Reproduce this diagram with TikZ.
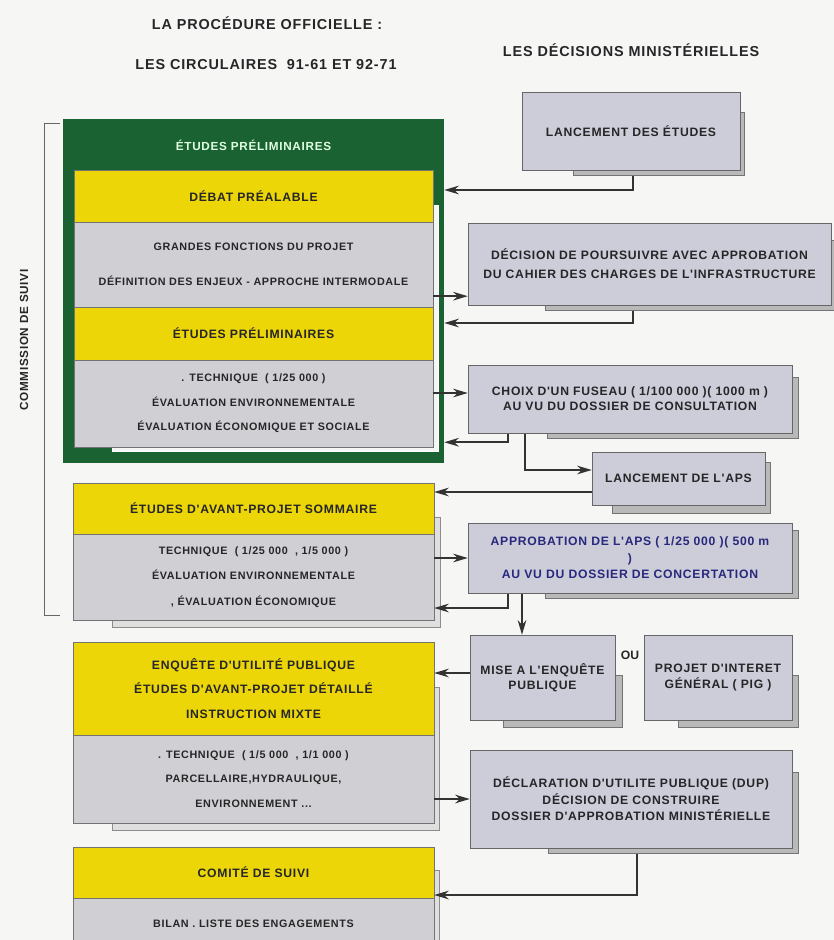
\documentclass[tikz,border=0pt]{standalone}
\usepackage{fontspec}
\setmainfont{Liberation Sans}
\newfontfamily\boxfont{Liberation Sans}[LetterSpace=6]
\usetikzlibrary{arrows.meta,calc}
\definecolor{etgreen}{RGB}{26,98,50}
\definecolor{etyellow}{RGB}{236,214,8}
\definecolor{bandgray}{RGB}{208,208,212}
\definecolor{decgray}{RGB}{205,205,218}
\definecolor{inkgray}{RGB}{38,38,40}
\definecolor{inkblue}{RGB}{40,40,125}
\definecolor{paper}{RGB}{246,246,244}
\newcommand{\unitpx}{0.3mm}
\pgfdeclarelayer{front}
\pgfsetlayers{main,front}

\begin{document}
\begin{tikzpicture}[x=0.03cm,y=-0.03cm,>=Stealth,
  wh/.style 2 args={minimum width=#1*\unitpx, minimum height=#2*\unitpx},
  band/.style={draw=black!55, line width=0.3pt, inner sep=0pt, align=center, text=inkgray},
  yband/.style={band, fill=etyellow, font=\boxfont\bfseries\fontsize{10.4}{#1}\selectfont},
  yband/.default=21,
  gband/.style={band, fill=bandgray, font=\boxfont\bfseries\fontsize{9.2}{#1}\selectfont},
  gband/.default=21,
  decbox/.style={draw=black!60, line width=0.4pt, fill=decgray, inner sep=0pt, align=center,
    text=inkgray, font=\boxfont\bfseries\fontsize{10.4}{#1}\selectfont},
  decbox/.default=13,
  flow/.style={draw=black!80, line width=0.45mm, -{Stealth[length=4.4mm,width=2.6mm]}},
  rshadow/.style={fill=gray!55, draw=black!55, line width=0.3pt},
  lshadow/.style={fill=gray!25, draw=black!45, line width=0.3pt},
  title/.style={font=\boxfont\bfseries\fontsize{12.3}{14}\selectfont, text=inkgray}]

  \useasboundingbox (0,0) rectangle (834,940);
  \clip (0,0) rectangle (834,940);
  \fill[paper] (0,0) rectangle (834,940);

  % decisions ministerielles (front layer, so the links pass under the shadows)
  \begin{pgfonlayer}{front}
  \foreach \a/\b/\c/\d in {573/112/744/175, 545/240/836/310, 547/377/798/438, 612/462/770/513,
      545/530/798/598, 503/675/622/727, 678/675/798/727, 548/772/798/853}
    \filldraw[rshadow] (\a,\b) rectangle (\c,\d);

  \node[decbox, wh={218}{78}] (lancEt) at (631,131) {LANCEMENT DES ÉTUDES};
  \node[decbox=16, wh={363}{82}] (poursuivre) at (649.5,264) {DÉCISION DE POURSUIVRE AVEC APPROBATION\\DU CAHIER DES CHARGES DE L'INFRASTRUCTURE};
  \node[decbox, wh={324}{68}] (fuseau) at (630,399) {CHOIX D'UN FUSEAU ( 1/100 000 )( 1000 m )\\AU VU DU DOSSIER DE CONSULTATION};
  \node[decbox, wh={173}{53}] (lancAps) at (678.5,478.5) {LANCEMENT DE L'APS};
  \node[decbox=14, wh={324}{70}, text=inkblue] (approb) at (630,558) {APPROBATION DE L'APS ( 1/25 000 )( 500 m\\)\\AU VU DU DOSSIER DE CONCERTATION};
  \node[decbox, wh={145}{85}] (enquete) at (542.5,677.5) {MISE A L'ENQUÊTE\\PUBLIQUE};
  \node[decbox, wh={148}{85}] (pig) at (718,677.5) {PROJET D'INTERET\\GÉNÉRAL ( PIG )};
  \node[decbox=14, wh={322}{98}] (dup) at (631,799) {DÉCLARATION D'UTILITE PUBLIQUE (DUP)\\DÉCISION DE CONSTRUIRE\\DOSSIER D'APPROBATION MINISTÉRIELLE};
  \node[font=\bfseries\fontsize{10.4}{12}\selectfont, text=inkgray] (ou) at (630,655) {OU};
  \end{pgfonlayer}

  % headings
  \node[title] (proc) at (267,23) {LA PROCÉDURE OFFICIELLE :};
  \node[title] (circ) at (266,65) {LES CIRCULAIRES \ 91-61 ET 92-71};
  \node[title] (mini) at (631,50) {LES DÉCISIONS MINISTÉRIELLES};

  % commission de suivi
  \draw[black!60, line width=0.5pt] (60,123) -| (44,615) -- (60,615);
  \node[title, font=\boxfont\bfseries\fontsize{10}{12}\selectfont, rotate=90] (comm) at (24,340) {COMMISSION DE SUIVI};

  % etudes preliminaires (green frame)
  \node[fill=etgreen, wh={381}{344}] (green) at (253.5,291) {};
  \node[font=\boxfont\bfseries\fontsize{10}{12}\selectfont, text=green!12!white] (greenTitle) at (253.5,145) {ÉTUDES PRÉLIMINAIRES};
  \filldraw[fill=white!92!gray, draw=white] (112,205) rectangle (438,451);
  \node[yband, wh={359}{52}] (debat) at (253.5,196) {DÉBAT PRÉALABLE};
  \node[gband=30, wh={359}{85}] (fonctions) at (253.5,264.5) {GRANDES FONCTIONS DU PROJET\\DÉFINITION DES ENJEUX - APPROCHE INTERMODALE};
  \node[yband, wh={359}{53}] (prelim) at (253.5,333.5) {ÉTUDES PRÉLIMINAIRES};
  \node[gband, wh={359}{87}] (technique) at (253.5,403.5) {. TECHNIQUE \ ( 1/25 000 )\\ÉVALUATION ENVIRONNEMENTALE\\ÉVALUATION ÉCONOMIQUE ET SOCIALE};

  % avant-projet sommaire
  \filldraw[lshadow] (112,517) rectangle (440,627);
  \node[yband, wh={361}{51}] (apsT) at (253.5,508.5) {ÉTUDES D'AVANT-PROJET SOMMAIRE};
  \node[gband=22, wh={361}{86}] (apsB) at (253.5,577) {TECHNIQUE \ ( 1/25 000 \ , 1/5 000 )\\ÉVALUATION ENVIRONNEMENTALE\\, ÉVALUATION ÉCONOMIQUE};

  % avant-projet detaille
  \filldraw[lshadow] (112,687) rectangle (439,830);
  \node[yband, wh={361}{93}] (apdT) at (253.5,688.5) {ENQUÊTE D'UTILITÉ PUBLIQUE\\ÉTUDES D'AVANT-PROJET DÉTAILLÉ\\INSTRUCTION MIXTE};
  \node[gband, wh={361}{88}] (apdB) at (253.5,779) {. TECHNIQUE \ ( 1/5 000 \ , 1/1 000 )\\PARCELLAIRE,HYDRAULIQUE,\\ENVIRONNEMENT ...};

  % comite de suivi
  \filldraw[lshadow] (112,870) rectangle (439,965);
  \node[yband, wh={361}{51}] (comT) at (253.5,872.5) {COMITÉ DE SUIVI};
  \node[gband, wh={361}{52}] (comB) at (253.5,924) {BILAN . LISTE DES ENGAGEMENTS};

  % connectors
  \draw[flow] ($(lancEt.south)+(2,0)$) |- ($(debat.east -| green.east)+(0,-6)$);
  \draw[flow] ($(fonctions.south east)+(0,-11)$) -- ($(fonctions.south east -| poursuivre.west)+(0,-11)$);
  \draw[flow] ($(poursuivre.south)+(-16.5,0)$) |- ($(prelim.east -| green.east)+(0,-10.5)$);
  \draw[flow] ($(technique.east)+(0,-10.5)$) -- ($(technique.east -| fuseau.west)+(0,-10.5)$);
  \draw[flow] ($(fuseau.south)+(-122,0)$) |- ($(green.south east)+(0,-21)$);
  \draw[flow] ($(fuseau.south)+(-105,0)$) |- ($(lancAps.west)+(0,-8.5)$);
  \draw[flow] ($(lancAps.west)+(0,13.5)$) -- ($(lancAps.west -| apsT.east)+(0,13.5)$);
  \draw[flow] (apsB.east |- approb.west) -- (approb.west);
  \draw[flow] ($(approb.south)+(-122,0)$) |- ($(apsB.east)+(0,31)$);
  \draw[flow] ($(approb.south)+(-108,0)$) -- ($(enquete.north)+(-20.5,0)$);
  \draw[flow] ($(enquete.west)+(0,-4.5)$) -- ($(enquete.west -| apdT.east)+(0,-4.5)$);
  \draw[flow] (apdB.east |- dup.west) -- (dup.west);
  \draw[flow] ($(dup.south)+(6,0)$) |- ($(comT.east)+(0,22.5)$);
\end{tikzpicture}
\end{document}
